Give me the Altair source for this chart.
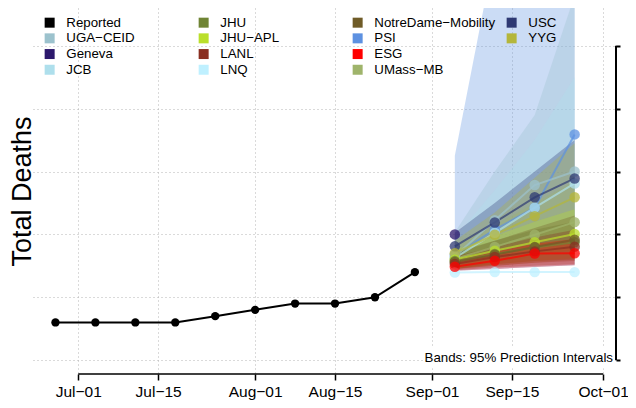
import altair as alt
import pandas as pd

# ---------------- data ----------------
reported_dates = ["2020-06-27", "2020-07-04", "2020-07-11", "2020-07-18", "2020-07-25",
                  "2020-08-01", "2020-08-08", "2020-08-15", "2020-08-22", "2020-08-29"]
reported_deaths = [72, 72, 72, 72, 74, 76, 78, 78, 80, 88]

forecast_dates = ["2020-09-05", "2020-09-12", "2020-09-19", "2020-09-26"]

median_psi = [93.5, 101.5, 108.5, 131.8]
median_jcb = [92.5, 100.5, 108.5, 116.2]
median_uga = [93.0, 104.5, 115.7, 120.0]
median_usc = [96.2, 103.8, 111.8, 117.8]
median_yyg = [94.0, 99.9, 105.8, 111.8]
median_umass = [92.2, 96.0, 99.9, 103.9]
median_jhuapl = [92.0, 94.8, 97.5, 100.1]
median_jhu = [91.5, 93.8, 95.8, 97.5]
median_nd = [91.2, 93.5, 96.0, 98.3]
median_lanl = [90.6, 92.8, 94.6, 96.1]
median_esg = [89.7, 91.6, 93.9, 94.0]
median_lnq = [87.9, 88.0, 88.0, 88.0]
median_geneva = [100.0]

lo_psi = [88.4, 89.0, 89.6, 90.2];   hi_psi = [125.0, 190.0, 260.0, 330.0]
lo_jcb = [88.4, 89.0, 89.6, 90.2];   hi_jcb = [99.0, 114.0, 130.0, 150.0]
lo_uga = [89.5, 91.0, 93.0, 95.0];   hi_uga = [100.7, 120.0, 138.0, 176.0]
lo_usc = [91.5, 95.5, 100.0, 104.0]; hi_usc = [100.5, 110.0, 120.0, 130.0]
lo_yyg = [89.0, 91.0, 93.0, 95.0];   hi_yyg = [98.0, 107.0, 118.0, 129.0]
lo_umass = [89.0, 90.0, 91.0, 92.0]; hi_umass = [96.0, 103.0, 110.0, 117.0]
lo_jhuapl = [89.0, 90.5, 91.5, 92.5]; hi_jhuapl = [95.0, 99.5, 104.0, 108.0]
lo_jhu = [89.0, 90.5, 91.5, 92.0];   hi_jhu = [94.5, 98.0, 101.5, 104.0]
lo_nd = [89.0, 90.0, 91.0, 91.5];    hi_nd = [94.0, 98.0, 102.0, 106.0]
lo_lanl = [88.6, 89.5, 90.0, 90.5];  hi_lanl = [93.0, 96.0, 99.0, 101.5]
lo_esg = [88.4, 89.0, 89.6, 90.2];   hi_esg = [91.5, 94.5, 97.0, 98.5]

model_names = ["Reported", "UGA\u2212CEID", "Geneva", "JCB", "JHU", "JHU\u2212APL", "LANL", "LNQ",
               "NotreDame\u2212Mobility", "PSI", "ESG", "UMass\u2212MB", "USC", "YYG"]
model_colors = ["#000000", "#9CC2CD", "#2C186C", "#AEDFEC", "#6F8434", "#BADF2B", "#8A2F21", "#BFF0FF",
                "#6F5B27", "#5D91E1", "#FF0000", "#9FB46B", "#2E3973", "#B4B63A"]
# two empty legend slots complete the 4 x 4 legend grid
legend_blanks = [" ", "  "]

x_tick_dates = ["2020-07-01", "2020-07-15", "2020-08-01", "2020-08-15",
                "2020-09-01", "2020-09-15", "2020-10-01"]
y_ticks = [60, 80, 100, 120, 140, 160]
x_domain = ["2020-06-23 01:30", "2020-10-03 06:00"]
y_domain = [55.6, 172.0]

note_text = "Bands: 95% Prediction Intervals"
note_value = 60.8
note_box_start = "2020-08-31 10:00"
note_box_values = [57.4, 64.5]

# ---------------- tables ----------------
medians = {
    "PSI": median_psi, "JCB": median_jcb, "UGA\u2212CEID": median_uga, "USC": median_usc,
    "YYG": median_yyg, "UMass\u2212MB": median_umass, "JHU\u2212APL": median_jhuapl,
    "JHU": median_jhu, "NotreDame\u2212Mobility": median_nd, "LANL": median_lanl,
    "LNQ": median_lnq, "ESG": median_esg, "Geneva": median_geneva,
}
bands = {
    "PSI": (lo_psi, hi_psi), "UGA\u2212CEID": (lo_uga, hi_uga), "JCB": (lo_jcb, hi_jcb),
    "USC": (lo_usc, hi_usc), "YYG": (lo_yyg, hi_yyg), "UMass\u2212MB": (lo_umass, hi_umass),
    "JHU\u2212APL": (lo_jhuapl, hi_jhuapl), "JHU": (lo_jhu, hi_jhu),
    "NotreDame\u2212Mobility": (lo_nd, hi_nd), "LANL": (lo_lanl, hi_lanl), "ESG": (lo_esg, hi_esg),
}

med_rows = []
for m, vals in medians.items():
    for d, v in zip(forecast_dates, vals):
        med_rows.append({"model": m, "date": pd.Timestamp(d), "value": v})
med_df = pd.DataFrame(med_rows)

band_rows = []
for m, (lo, hi) in bands.items():
    for d, a, b in zip(forecast_dates, lo, hi):
        band_rows.append({"model": m, "date": pd.Timestamp(d), "value": a, "value2": b})
band_df = pd.DataFrame(band_rows)

rep_df = pd.DataFrame({"model": "Reported", "date": pd.to_datetime(reported_dates),
                       "value": reported_deaths})

x_min, x_max = pd.Timestamp(x_domain[0]), pd.Timestamp(x_domain[1])
note_df = pd.DataFrame({"date": [x_max], "value": [note_value], "label": [note_text]})
box_df = pd.DataFrame({"date": [pd.Timestamp(note_box_start)], "date2": [x_max],
                       "value": [note_box_values[0]], "value2": [note_box_values[1]]})
xline_df = pd.DataFrame({"date": [pd.Timestamp(x_tick_dates[0])],
                         "date2": [pd.Timestamp(x_tick_dates[-1])], "value": [y_domain[0]]})
yline_df = pd.DataFrame({"date": [x_max], "value": [y_ticks[-1]], "value2": [y_ticks[0]]})


def to_dt(ts):
    ts = pd.Timestamp(ts)
    return alt.DateTime(year=ts.year, month=ts.month, date=ts.day, hours=ts.hour, minutes=ts.minute)


FONT = "Liberation Sans"
GRID = "#b4b4b4"

x_enc = alt.X(
    "date:T",
    scale=alt.Scale(domain=[to_dt(x_min), to_dt(x_max)]),
    axis=alt.Axis(values=[to_dt(d) for d in x_tick_dates],
                  labelExpr="replace(timeFormat(datum.value, '%b-%d'), '-', '\u2212')",
                  grid=True, gridDash=[1, 3], gridColor=GRID, gridWidth=1,
                  domain=False, ticks=True, tickColor="black", tickSize=6, tickWidth=1.5,
                  labelFont=FONT, labelFontSize=15.5, labelColor="black", labelPadding=4,
                  title=None),
)
y_scale = alt.Scale(domain=y_domain, nice=False, zero=False)
y_enc = alt.Y(
    "value:Q", scale=y_scale,
    axis=alt.Axis(values=y_ticks, labels=False, ticks=False, domain=False,
                  grid=True, gridDash=[1, 3], gridColor=GRID, gridWidth=1,
                  title="Total Deaths", titleFont=FONT, titleFontSize=27,
                  titleFontWeight="normal", titleColor="black", titlePadding=-3),
)
color_enc = alt.Color(
    "model:N",
    scale=alt.Scale(domain=model_names + legend_blanks,
                    range=model_colors + ["rgba(0,0,0,0)"] * len(legend_blanks)),
    legend=alt.Legend(orient="none", legendX=10, legendY=8, columns=4, gridAlign="all",
                      columnPadding=9, rowPadding=1.7, title=None,
                      symbolType="square", symbolSize=100, symbolOpacity=1,
                      symbolStrokeWidth=0, labelFont=FONT, labelFontSize=13.3,
                      labelColor="black", labelOffset=10),
)

bands_layer = alt.Chart(band_df).mark_area(opacity=0.32, clip=True).encode(
    x=x_enc, y=y_enc, y2="value2:Q", color=color_enc, detail="model:N")
lines_layer = alt.Chart(med_df).mark_line(strokeWidth=2, opacity=0.7, clip=True).encode(
    x=x_enc, y=y_enc, color=color_enc, detail="model:N")
points_layer = alt.Chart(med_df).mark_circle(size=110, opacity=0.75, clip=True).encode(
    x=x_enc, y=y_enc, color=color_enc)
rep_line = alt.Chart(rep_df).mark_line(strokeWidth=2).encode(x=x_enc, y=y_enc, color=color_enc)
rep_points = alt.Chart(rep_df).mark_circle(size=70, opacity=1).encode(x=x_enc, y=y_enc, color=color_enc)
box_layer = alt.Chart(box_df).mark_rect(color="white").encode(
    x=x_enc, x2="date2:T", y=y_enc, y2="value2:Q")
note_layer = alt.Chart(note_df).mark_text(align="right", baseline="middle", dx=-3,
                                          font=FONT, fontSize=13.3, color="black").encode(
    x=x_enc, y=y_enc, text="label:N")
xline_layer = alt.Chart(xline_df).mark_rule(color="black", strokeWidth=1.5).encode(
    x=x_enc, x2="date2:T", y=y_enc)

inner = alt.layer(bands_layer, lines_layer, points_layer, rep_line, rep_points,
                  box_layer, note_layer, xline_layer)

yline_layer = alt.Chart(yline_df).mark_rule(color="black", strokeWidth=2).encode(
    x=x_enc,
    y=alt.Y("value:Q", scale=y_scale,
            axis=alt.Axis(orient="right", values=y_ticks, labels=False, ticks=True,
                          tickSize=4, tickWidth=2, tickColor="black", domain=False,
                          grid=False, title=None)),
    y2="value2:Q")

chart = alt.layer(inner, yline_layer).resolve_axis(y="independent").properties(
    width=620, height=392, padding=0,
    autosize=alt.AutoSizeParams(type="fit", contains="padding"),
    background="white",
).configure_view(stroke=None)

chart.save("out.html", embed_options={"renderer": "svg", "actions": False})
